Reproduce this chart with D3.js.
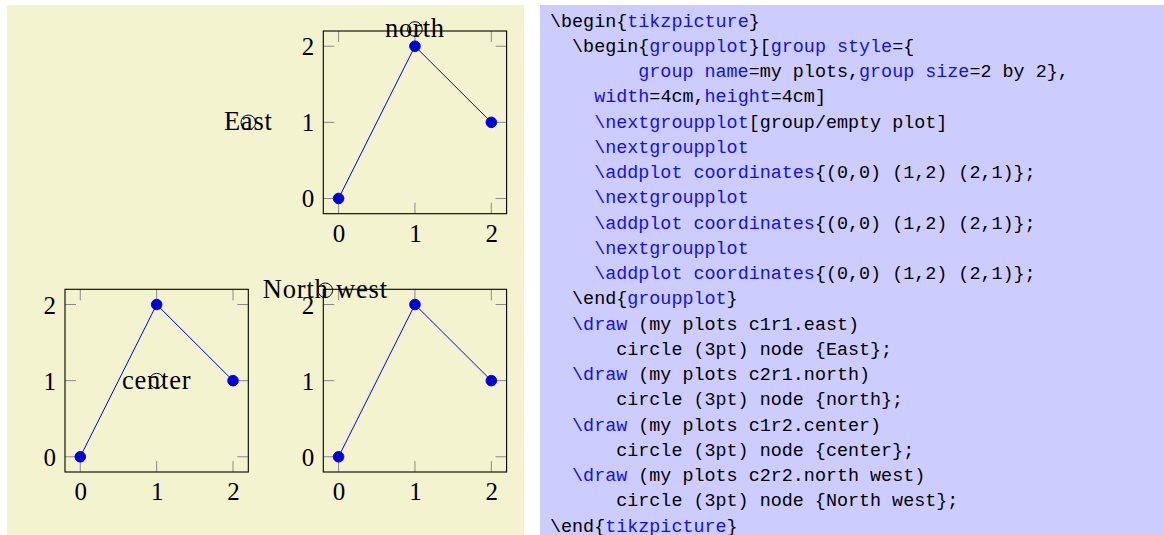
<!DOCTYPE html>
<html>
<head>
<meta charset="utf-8">
<script src="https://cdn.jsdelivr.net/npm/d3@7"></script>
<style>
  html, body { margin: 0; padding: 0; background: #ffffff; }
  svg { display: block; }
</style>
</head>
<body>
<svg id="chart" width="1164" height="535"></svg>
<script>
// ---------------- data ----------------
const xValues = [0, 1, 2];
const yValues = [0, 2, 1];
const xTicks = [0, 1, 2];
const yTicks = [0, 1, 2];
const axisDomain = [-0.2, 2.2];
// group plots: column, row, has data?
const groupCols = [1, 2, 1, 2];
const groupRows = [1, 1, 2, 2];
const groupHasPlot = [false, true, true, true];
// annotations
const annCols = [1, 2, 1, 2];
const annRows = [1, 1, 2, 2];
const annAnchors = ["east", "north", "center", "north west"];
const annLabels = ["East", "north", "center", "North west"];
// code listing: segments [text, keyword?]
const codeLines = [
  [["\\begin{", 0], ["tikzpicture", 1], ["}", 0]],
  [["  \\begin{", 0], ["groupplot", 1], ["}[", 0], ["group style", 1], ["={", 0]],
  [["        ", 0], ["group name", 1], ["=my plots,", 0], ["group size", 1], ["=2 by 2},", 0]],
  [["    ", 0], ["width", 1], ["=4cm,", 0], ["height", 1], ["=4cm]", 0]],
  [["    ", 0], ["\\nextgroupplot", 1], ["[group/empty plot]", 0]],
  [["    ", 0], ["\\nextgroupplot", 1]],
  [["    ", 0], ["\\addplot coordinates", 1], ["{(0,0) (1,2) (2,1)};", 0]],
  [["    ", 0], ["\\nextgroupplot", 1]],
  [["    ", 0], ["\\addplot coordinates", 1], ["{(0,0) (1,2) (2,1)};", 0]],
  [["    ", 0], ["\\nextgroupplot", 1]],
  [["    ", 0], ["\\addplot coordinates", 1], ["{(0,0) (1,2) (2,1)};", 0]],
  [["  \\end{", 0], ["groupplot", 1], ["}", 0]],
  [["  ", 0], ["\\draw", 1], [" (my plots c1r1.east)", 0]],
  [["      circle (3pt) node {East};", 0]],
  [["  ", 0], ["\\draw", 1], [" (my plots c2r1.north)", 0]],
  [["      circle (3pt) node {north};", 0]],
  [["  ", 0], ["\\draw", 1], [" (my plots c1r2.center)", 0]],
  [["      circle (3pt) node {center};", 0]],
  [["  ", 0], ["\\draw", 1], [" (my plots c2r2.north west)", 0]],
  [["      circle (3pt) node {North west};", 0]],
  [["\\end{", 0], ["tikzpicture", 1], ["}", 0]]
];

// ---------------- layout ----------------
const colX = [65, 323.3];
const rowY = [31, 289.3];
const plotW = 183.3, plotH = 182.7;
const tickLen = 11;
const serif = "'Liberation Serif', 'Times New Roman', serif";
const mono = "'Liberation Mono', 'DejaVu Sans Mono', monospace";

const svg = d3.select("#chart");

// background panels
svg.append("rect").attr("x", 7).attr("y", 5).attr("width", 517).attr("height", 530).attr("fill", "#f3f3cf");
svg.append("rect").attr("x", 540).attr("y", 5).attr("width", 624).attr("height", 530).attr("fill", "#ccccff");

const plotGeom = [];
groupCols.forEach((c, i) => {
  const x0 = colX[c - 1], y0 = rowY[groupRows[i] - 1];
  const xs = d3.scaleLinear().domain(axisDomain).range([0, plotW]);
  const ys = d3.scaleLinear().domain(axisDomain).range([plotH, 0]);
  plotGeom.push({ x0, y0, xs, ys });
  if (!groupHasPlot[i]) return;
  const g = svg.append("g").attr("transform", `translate(${x0},${y0})`);

  // ticks inside (bottom/top/left/right)
  const tickG = g.append("g").attr("stroke", "#8a8a8a").attr("stroke-width", 1);
  xTicks.forEach(t => {
    tickG.append("line").attr("x1", xs(t)).attr("x2", xs(t)).attr("y1", plotH).attr("y2", plotH - tickLen);
    tickG.append("line").attr("x1", xs(t)).attr("x2", xs(t)).attr("y1", 0).attr("y2", tickLen);
  });
  yTicks.forEach(t => {
    tickG.append("line").attr("y1", ys(t)).attr("y2", ys(t)).attr("x1", 0).attr("x2", tickLen);
    tickG.append("line").attr("y1", ys(t)).attr("y2", ys(t)).attr("x1", plotW).attr("x2", plotW - tickLen);
  });

  // tick labels via d3 axes (lines hidden)
  const xAxis = d3.axisBottom(xs).tickValues(xTicks).tickSize(0).tickPadding(0).tickFormat(d3.format("d"));
  const yAxis = d3.axisLeft(ys).tickValues(yTicks).tickSize(0).tickPadding(0).tickFormat(d3.format("d"));
  const gx = g.append("g").attr("transform", `translate(0,${plotH})`).call(xAxis);
  const gy = g.append("g").call(yAxis);
  [gx, gy].forEach(a => {
    a.select(".domain").remove();
    a.selectAll("text").attr("font-family", serif).attr("font-size", 25).attr("fill", "#000");
  });
  gx.selectAll("text").attr("dy", null).attr("y", 28);
  gy.selectAll("text").attr("dy", null).attr("x", -9).attr("y", 8.5);

  // line + marks
  const pts = xValues.map((x, k) => [x, yValues[k]]);
  g.append("path").datum(pts)
    .attr("d", d3.line().x(d => xs(d[0])).y(d => ys(d[1])))
    .attr("fill", "none").attr("stroke", "#0000ff").attr("stroke-width", 1);
  g.selectAll("circle.mark").data(pts).enter().append("circle")
    .attr("class", "mark")
    .attr("cx", d => xs(d[0])).attr("cy", d => ys(d[1])).attr("r", 5.3)
    .attr("fill", "#0000d6").attr("stroke", "#0000ff").attr("stroke-width", 1);

  // axis box
  g.append("rect").attr("x", 0).attr("y", 0).attr("width", plotW).attr("height", plotH)
    .attr("fill", "none").attr("stroke", "#000").attr("stroke-width", 1.1);
});

// annotations
function anchorPoint(geom, name) {
  const x0 = geom.x0, y0 = geom.y0;
  switch (name) {
    case "east": return [x0 + plotW, y0 + plotH / 2];
    case "north": return [x0 + plotW / 2, y0 - 2];
    case "center": return [x0 + plotW / 2, y0 + plotH / 2];
    case "north west": return [x0 + 2, y0 + 1];
  }
}
annLabels.forEach((lab, i) => {
  const gi = groupCols.findIndex((c, k) => c === annCols[i] && groupRows[k] === annRows[i]);
  const [ax, ay] = anchorPoint(plotGeom[gi], annAnchors[i]);
  svg.append("circle").attr("cx", ax).attr("cy", ay).attr("r", 7.3)
    .attr("fill", "none").attr("stroke", "#000").attr("stroke-width", 1);
  svg.append("text").attr("x", ax).attr("y", ay + 8)
    .attr("text-anchor", "middle").attr("font-family", serif).attr("font-size", 26.5)
    .attr("letter-spacing", 0.8)
    .attr("fill", "#000").text(lab);
});

// code listing
const codeX = 550, codeY0 = 26.5, codePitch = 25.25;
const codeText = svg.append("g").attr("font-family", mono).attr("font-size", 18.4);
codeLines.forEach((segs, i) => {
  const t = codeText.append("text").attr("x", codeX).attr("y", codeY0 + i * codePitch)
    .attr("xml:space", "preserve").style("white-space", "pre");
  segs.forEach(([s, kw]) => {
    t.append("tspan").attr("fill", kw ? "#1010f0" : "#000").text(s);
  });
});
</script>
</body>
</html>
